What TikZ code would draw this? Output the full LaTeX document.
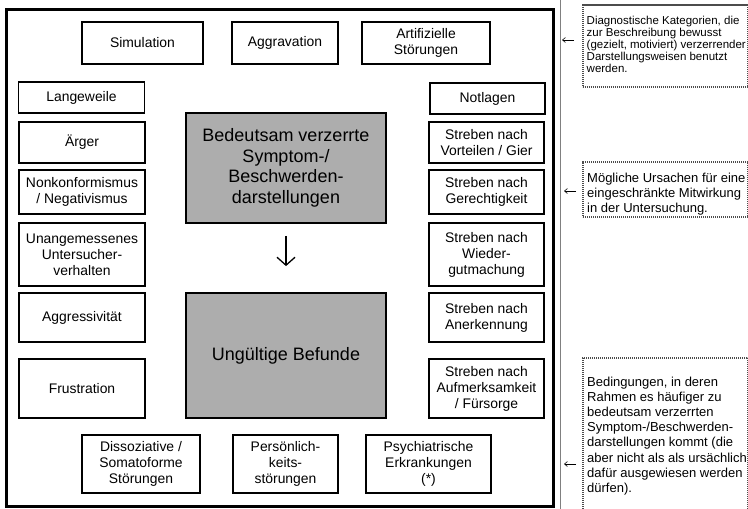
\documentclass[tikz,border=0pt]{standalone}
\usepackage{fontspec}
\setmainfont{Liberation Sans}
\usepackage{tikz}
\usetikzlibrary{arrows.meta}
\definecolor{befundgrau}{gray}{0.68}
\tikzstyle{box}=[draw, line width=1.8pt, align=center, inner sep=0,
                 font=\fontsize{13.9}{16}\selectfont]
\tikzstyle{lbox}=[box, minimum width=126pt]
\tikzstyle{rbox}=[box, minimum width=115pt]
\tikzstyle{gbox}=[box, fill=befundgrau, minimum width=200pt,
                  font=\fontsize{18}{20.5}\selectfont]
\tikzstyle{note}=[draw=black!70, line width=2pt, dash pattern=on 1.2pt off 0.8pt,
                  inner sep=0, minimum width=165pt]
\tikzstyle{notetext}=[anchor=west, align=left, inner sep=0,
                      font=\fontsize{13}{15.2}\selectfont]
\tikzstyle{diagram}=[x=1pt, y=-1pt,
                     % kleine Pfeile zu den Anmerkungen
                     hint/.style={line width=0.6pt, -{Straight Barb[length=3pt, width=5pt]}}]

\begin{document}
\begin{tikzpicture}[diagram]
        \useasboundingbox (0,0) rectangle (748,509);
        \draw[line width=3pt] (6,9) rectangle (553,506);
        \draw[gray, line width=0.4pt] (560,0) -- (560,509);
        % obere Reihe
        \node[box, minimum width=121pt, minimum height=42pt] (Sim) at (142.5,43) {Simulation};
        \node[box, minimum width=106pt, minimum height=42pt] (Aggr) at (285,43) {Aggravation};
        \node[box, minimum width=128pt, minimum height=42pt] (Artif) at (426,43) {Artifizielle\\Störungen};
        % linke Spalte
        \node[lbox, minimum height=31pt] (Langew) at (81.5,97.5) {Langeweile};
        \node[lbox, minimum height=41pt] (Aerger) at (82,142.5) {Ärger};
        \node[lbox, minimum height=44pt] (Nonk) at (82,192) {Nonkonformismus\\/ Negativismus};
        \node[lbox, minimum height=63pt] (Unang) at (82,254.5) {Unangemessenes\\Untersucher-\\verhalten};
        \node[lbox, minimum height=49pt] (Aggress) at (82,317.5) {Aggressivität};
        \node[lbox, minimum height=59pt] (Frust) at (82,388.5) {Frustration};
        % rechte Spalte
        \node[rbox, minimum height=31pt] (Notl) at (487.5,98.5) {Notlagen};
        \node[rbox, minimum height=41pt] (Vort) at (486.5,142.5) {Streben nach\\Vorteilen / Gier};
        \node[rbox, minimum height=44pt] (Gerecht) at (486.5,192) {Streben nach\\Gerechtigkeit};
        \node[rbox, minimum height=63pt] (Wieder) at (486.5,254.5) {Streben nach\\Wieder-\\gutmachung};
        \node[rbox, minimum height=49pt] (Anerk) at (486.5,317.5) {Streben nach\\Anerkennung};
        \node[rbox, minimum height=59pt] (Aufm) at (486.5,388.5) {Streben nach\\Aufmerksamkeit\\/ Fürsorge};
        % untere Reihe
        \node[box, minimum width=118pt, minimum height=58pt] (Dissoz) at (141,464) {Dissoziative /\\Somatoforme\\Störungen};
        \node[box, minimum width=105pt, minimum height=58pt] (Persoen) at (285.5,464) {Persönlich-\\keits-\\störungen};
        \node[box, minimum width=125pt, minimum height=58pt] (Psych) at (428.5,464) {Psychiatrische\\Erkrankungen\\(*)};
        % Mitte
        \node[gbox, minimum height=110pt] (Bed) at (286,168) {Bedeutsam verzerrte\\Symptom-/\\Beschwerden-\\darstellungen};
        \node[gbox, minimum height=125pt] (Ungue) at (286,355.5) {Ungültige Befunde};
        \draw[line width=1.3pt, -{Straight Barb[length=8pt, width=18pt]}, shorten <=12pt, shorten >=26pt] (Bed) -- (Ungue);
        % Anmerkungen
        \node[note, minimum height=82pt] (Anm1) at (665,46) {};
        \node[notetext, font=\fontsize{11.5}{12}\selectfont] (Anm1txt) at ([xshift=5pt, yshift=1.5pt]Anm1.west)
            {Diagnostische Kategorien, die\\zur Beschreibung bewusst\\(gezielt, motiviert) verzerrender\\Darstellungsweisen benutzt\\werden.};
        \node[note, minimum height=55pt] (Anm2) at (665.5,189.5) {};
        \node[notetext] (Anm2txt) at ([xshift=5pt, yshift=-4.5pt]Anm2.west)
            {Mögliche Ursachen für eine\\eingeschränkte Mitwirkung\\in der Untersuchung.};
        \node[note, minimum height=156pt] (Anm3) at (665.5,436) {};
        \node[notetext] (Anm3txt) at ([xshift=5pt]Anm3.west)
            {Bedingungen, in deren\\Rahmen es häufiger zu\\bedeutsam verzerrten\\Symptom-/Beschwerden-\\darstellungen kommt (die\\aber nicht als als ursächlich\\dafür ausgewiesen werden\\dürfen).};
        \coordinate (h1a) at (574,40);  \coordinate (h1b) at (562,40);
        \coordinate (h2a) at (576,191); \coordinate (h2b) at (564,191);
        \coordinate (h3a) at (576,464); \coordinate (h3b) at (564,464);
        \draw[hint] (h1a) -- (h1b);
        \draw[hint] (h2a) -- (h2b);
        \draw[hint] (h3a) -- (h3b);
\end{tikzpicture}
\end{document}
